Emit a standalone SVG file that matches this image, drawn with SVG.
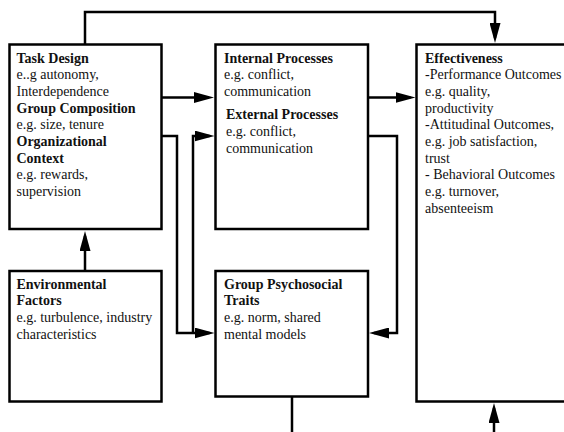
<svg xmlns="http://www.w3.org/2000/svg" width="564" height="432" viewBox="0 0 564 432">
  <style>
    .box { fill: #ffffff; stroke: #000000; stroke-width: 2.5; }
    .wire { fill: none; stroke: #000000; stroke-width: 2.5; stroke-linejoin: miter; }
    text { font-family: "Liberation Serif", "Times New Roman", serif; font-size: 14px; fill: #111111; }
    .b { font-weight: bold; }
  </style>
  <defs>
    <!-- filled triangular arrowhead; tip sits 5px past the path end -->
    <marker id="arrow" markerUnits="userSpaceOnUse" markerWidth="20" markerHeight="11" refX="15" refY="5.5" orient="auto">
      <path d="M0,0 L20,5.5 L0,11 z" fill="#000000"/>
    </marker>
  </defs>
  <rect width="564" height="432" fill="#ffffff"/>

  <!-- connectors -->
  <g id="connectors">
    <path class="wire" d="M85,44.5 V12 H495 V38" marker-end="url(#arrow)"/>
    <path class="wire" d="M161.5,97.5 H209" marker-end="url(#arrow)"/>
    <path class="wire" d="M368,97.5 H410.5" marker-end="url(#arrow)"/>
    <path class="wire" d="M161.5,136 H177 V333 H209.5" marker-end="url(#arrow)"/>
    <path class="wire" d="M193,333 V136 H209.5" marker-end="url(#arrow)"/>
    <path class="wire" d="M368,136 H397 V333 H374" marker-end="url(#arrow)"/>
    <path class="wire" d="M85,271 V236" marker-end="url(#arrow)"/>
    <path class="wire" d="M292,396.5 V432"/>
    <path class="wire" d="M494,432 V408" marker-end="url(#arrow)"/>
  </g>

  <g id="task-design">
    <rect class="box" x="9.5" y="44.5" width="152" height="184.5"/>
    <text x="16.5" y="62.5" class="b">Task Design</text>
    <text x="16.5" y="79.2">e..g autonomy,</text>
    <text x="16.5" y="95.9">Interdependence</text>
    <text x="16.5" y="112.6" class="b">Group Composition</text>
    <text x="16.5" y="129.3">e.g. size, tenure</text>
    <text x="16.5" y="146" class="b">Organizational</text>
    <text x="16.5" y="162.7" class="b">Context</text>
    <text x="16.5" y="179.4">e.g. rewards,</text>
    <text x="16.5" y="196.1">supervision</text>
  </g>

  <g id="processes">
    <rect class="box" x="215.5" y="44.5" width="152.5" height="184.5"/>
    <text x="224" y="62.5" class="b">Internal Processes</text>
    <text x="224" y="79.2">e.g. conflict,</text>
    <text x="224" y="95.9">communication</text>
    <text x="226" y="119.3" class="b">External Processes</text>
    <text x="226" y="136">e.g. conflict,</text>
    <text x="226" y="152.7">communication</text>
  </g>

  <g id="effectiveness">
    <rect class="box" x="416.5" y="44.5" width="170" height="357"/>
    <text x="425" y="62.5" class="b">Effectiveness</text>
    <text x="425" y="79.2">-Performance Outcomes</text>
    <text x="425" y="95.9">e.g. quality,</text>
    <text x="425" y="112.6">productivity</text>
    <text x="425" y="129.3">-Attitudinal Outcomes,</text>
    <text x="425" y="146">e.g. job satisfaction,</text>
    <text x="425" y="162.7">trust</text>
    <text x="425" y="179.4">- Behavioral Outcomes</text>
    <text x="425" y="196.1">e.g. turnover,</text>
    <text x="425" y="212.8">absenteeism</text>
  </g>

  <g id="environmental-factors">
    <rect class="box" x="9.5" y="271" width="152" height="130.5"/>
    <text x="16.5" y="288.5" class="b">Environmental</text>
    <text x="16.5" y="305.2" class="b">Factors</text>
    <text x="16.5" y="321.9">e.g. turbulence, industry</text>
    <text x="16.5" y="338.6">characteristics</text>
  </g>

  <g id="group-psychosocial-traits">
    <rect class="box" x="215.5" y="271" width="152.5" height="125.5"/>
    <text x="224" y="288.5" class="b">Group Psychosocial</text>
    <text x="224" y="305.2" class="b">Traits</text>
    <text x="224" y="321.9">e.g. norm, shared</text>
    <text x="224" y="338.6">mental models</text>
  </g>
</svg>
